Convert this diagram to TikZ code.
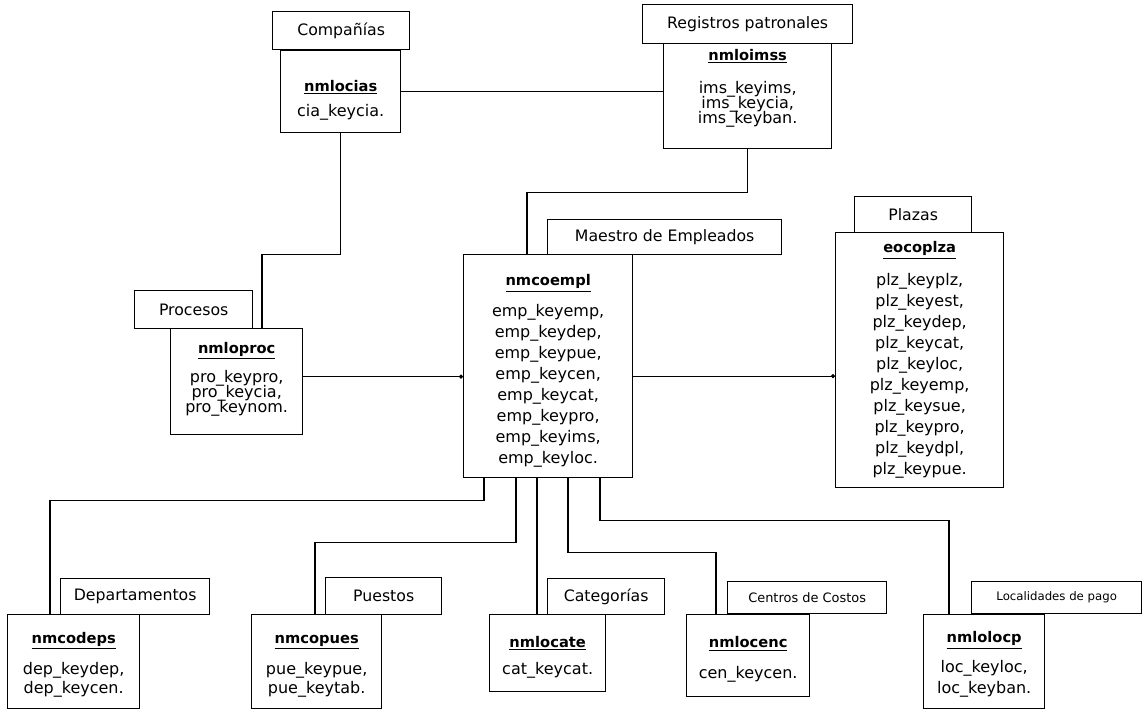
\documentclass[tikz,border=0pt]{standalone}
\usepackage{fontspec}
\setmainfont{DejaVu Sans}
\usepackage{tikz}
\usetikzlibrary{arrows.meta,positioning,calc}

\newlength{\px}
\setlength{\px}{0.75pt}
\newcommand{\tabname}[1]{{\fontsize{11}{13}\selectfont\bfseries\underline{#1}}}
\newcommand{\apretado}{\fontsize{12}{11.25}\selectfont\setlength{\lineskiplimit}{-6pt}}
% struts to move the text block down (top) or up (bottom)
\newcommand{\bajar}[1]{\rule{0pt}{#1}}
\newcommand{\subir}[1]{\rule[-#1]{0pt}{0pt}}

\begin{document}
\begin{tikzpicture}[x=0.75pt,y=-0.75pt,
    titulo/.style={draw,line width=1pt,fill=white,inner sep=0pt,anchor=north west,
      font=\fontsize{11.8}{14}\selectfont},
    tabla/.style={draw,line width=1pt,fill=white,inner sep=0pt,anchor=north west,
      align=center,font=\fontsize{12}{15.75}\selectfont},
    apretada/.style={font=\apretado},
    liga/.style={line width=0.8pt},
    punto/.style={liga,-{Circle[length=3pt]}}]
  \useasboundingbox (0,0) rectangle (1143,709);

  % tablas
  \node[tabla,minimum width=120\px,minimum height=82\px] (cias) at (280,50)
    {\bajar{21pt}\tabname{nmlocias}\\[3pt] cia\_keycia.};
  \node[tabla,apretada,minimum width=168\px,minimum height=105\px] (imss) at (663,43)
    {\tabname{nmloimss}\\[13.5pt] ims\_keyims,\\ ims\_keycia,\\ ims\_keyban.\subir{14.5pt}};
  \node[tabla,apretada,minimum width=132\px,minimum height=106\px] (proc) at (170,328)
    {\tabname{nmloproc}\\[11pt] pro\_keypro,\\ pro\_keycia,\\ pro\_keynom.\subir{6.5pt}};
  \node[tabla,minimum width=169\px,minimum height=223\px] (empl) at (463,254)
    {\bajar{16pt}\tabname{nmcoempl}\\[7.5pt] emp\_keyemp,\\ emp\_keydep,\\ emp\_keypue,\\
     emp\_keycen,\\ emp\_keycat,\\ emp\_keypro,\\ emp\_keyims,\\ emp\_keyloc.};
  \node[tabla,minimum width=168\px,minimum height=255\px] (plza) at (835,232)
    {\tabname{eocoplza}\\[9pt] plz\_keyplz,\\ plz\_keyest,\\ plz\_keydep,\\ plz\_keycat,\\
     plz\_keyloc,\\ plz\_keyemp,\\ plz\_keysue,\\ plz\_keypro,\\ plz\_keydpl,\\ plz\_keypue.};
  \node[tabla,font=\fontsize{12}{14.25}\selectfont,minimum width=132\px,minimum height=94\px]
    (deps) at (7,614) {\bajar{13pt}\tabname{nmcodeps}\\[9pt] dep\_keydep,\\ dep\_keycen.};
  \node[tabla,font=\fontsize{12}{14.25}\selectfont,minimum width=130\px,minimum height=94\px]
    (pues) at (251,614) {\bajar{13pt}\tabname{nmcopues}\\[9pt] pue\_keypue,\\ pue\_keytab.};
  \node[tabla,minimum width=116\px,minimum height=77\px] (cate) at (489,614)
    {\bajar{14.5pt}\tabname{nmlocate}\\[5pt] cat\_keycat.};
  \node[tabla,minimum width=123\px,minimum height=82\px] (cenc) at (686,614)
    {\bajar{14.5pt}\tabname{nmlocenc}\\[7.5pt] cen\_keycen.};
  \node[tabla,minimum width=121\px,minimum height=94\px] (locp) at (923,614)
    {\bajar{13pt}\tabname{nmlolocp}\\[6.75pt] loc\_keyloc,\\ loc\_keyban.};

  % titulos
  \node[titulo,minimum width=137\px,minimum height=38\px] (tcias) at (272,11) {Compañías};
  \node[titulo,minimum width=210\px,minimum height=39\px] (timss) at (642,4) {Registros patronales};
  \node[titulo,minimum width=118\px,minimum height=38\px] (tproc) at (134,290) {Procesos};
  \node[titulo,minimum width=234\px,minimum height=35\px] (templ) at (547,219) {Maestro de Empleados};
  \node[titulo,minimum width=117\px,minimum height=36\px] (tplza) at (854,196) {Plazas};
  \node[titulo,minimum width=149\px,minimum height=36\px] (tdeps) at (60,578) {Departamentos};
  \node[titulo,minimum width=116\px,minimum height=37\px] (tpues) at (325,577) {Puestos};
  \node[titulo,minimum width=117\px,minimum height=36\px] (tcate) at (547,578) {Categorías};
  \node[titulo,font=\fontsize{9.7}{12}\selectfont,minimum width=159\px,minimum height=32\px]
    (tcenc) at (727,581) {Centros de Costos};
  \node[titulo,font=\fontsize{8.8}{11}\selectfont,minimum width=170\px,minimum height=32\px]
    (tlocp) at (971,581) {Localidades de pago};

  % ligas de arriba
  \draw[liga] (cias.east) -- (cias.east -| imss.west);
  \draw[liga] (cias.south) -- ++(0,121) -| ($(proc.north west)+(92,0)$);
  \draw[liga] (imss.south) -- ++(0,43) -| ($(empl.north west)+(64,0)$);
  \draw[punto] ($(proc.east)+(0,-5)$) coordinate (p1) -- (p1 -| empl.west);
  \draw[punto] ($(empl.east)+(0,10)$) coordinate (p2) -- (p2 -| plza.west);

  % ligas de abajo
  \draw[liga] ($(empl.south west)+(21,0)$) -- ++(0,22) -| ($(deps.north west)+(43,0)$);
  \draw[liga] ($(empl.south west)+(53,0)$) -- ++(0,64) -| ($(pues.north west)+(64,0)$);
  \draw[liga] ($(empl.south west)+(74,0)$) -- ($(cate.north west)+(48,0)$);
  \draw[liga] ($(empl.south west)+(105,0)$) -- ++(0,74) -| ($(cenc.north west)+(30,0)$);
  \draw[liga] ($(empl.south west)+(137,0)$) -- ++(0,42) -| ($(locp.north west)+(26,0)$);
\end{tikzpicture}
\end{document}
